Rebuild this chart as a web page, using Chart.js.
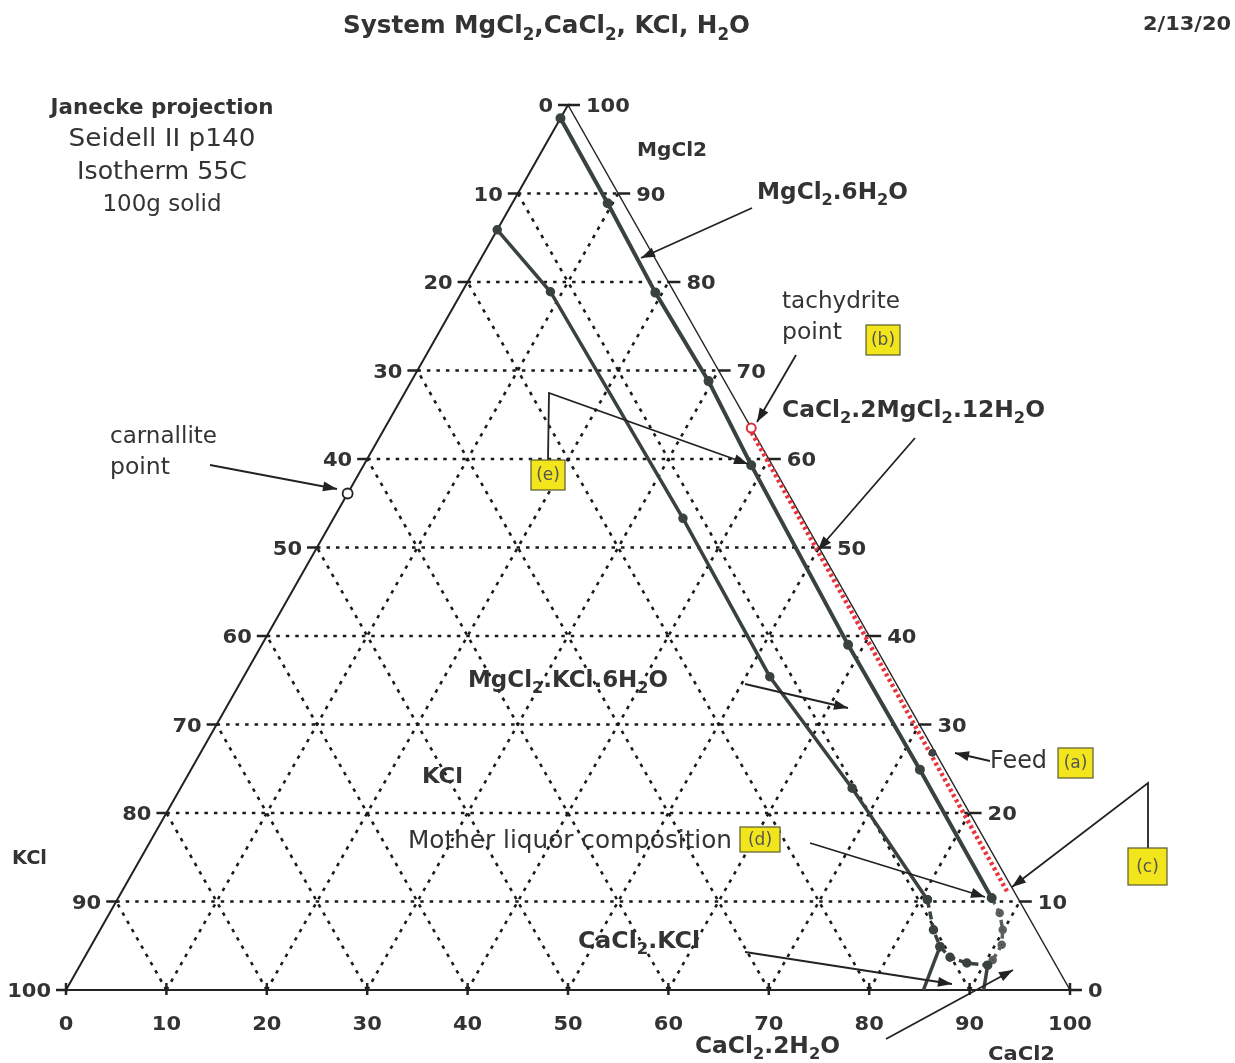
<!DOCTYPE html>
<html><head><meta charset="utf-8">
<script src="https://cdn.jsdelivr.net/npm/chart.js@4.4.1/dist/chart.umd.min.js"></script>
<style>html,body{margin:0;padding:0;background:#fff}canvas{display:block}</style>
</head><body>
<canvas id="c" width="1235" height="1063"></canvas>
<script>
// Ternary points are [CaCl2 %, MgCl2 %]; KCl = 100 - CaCl2 - MgCl2 (Janecke, 100 g solid)
const gridLevels = [10, 20, 30, 40, 50, 60, 70, 80, 90];
const tickLevels = [0, 10, 20, 30, 40, 50, 60, 70, 80, 90, 100];
const bottomTickLabels = ['0','10','20','30','40','50','60','70','80','90','100'];   // CaCl2
const rightTickLabels  = ['0','10','20','30','40','50','60','70','80','90','100'];   // MgCl2
const leftTickLabels   = ['100','90','80','70','60','50','40','30','20','10','0'];   // KCl

const mgcl2HexahydrateCurve = [[0,98.5],[9.5,88.9],[19.3,78.8],[29.6,68.8],[38.6,59.3],[58.4,39.0],[72.6,24.9],[87.0,10.4]];
const kclCarnalliteCurve    = [[0,85.9],[8.8,78.9],[34.8,53.3],[52.4,35.4],[66.9,22.8],[80.7,10.2]];
const kclCarnalliteLower    = [[80.7,10.2],[83.0,6.8],[84.6,4.9]];
const cacl2KclCurve         = [[84.6,4.9],[86.2,3.7],[88.2,3.05],[90.4,2.8]];
const motherLiquorLoop      = [[87.0,10.4],[88.65,8.7],[89.9,6.8],[90.65,5.1],[90.6,3.4],[90.4,2.8]];
const cacl2KclBoundary      = [[84.6,4.9],[85.4,0]];
const cacl2DihydrateBoundary= [[90.4,2.8],[91.4,0]];
const tachydriteLine        = [[36.8,63.0],[88.3,11.0]];
const tachydritePoint       = [[36.5,63.5]];
const feedPoint             = [[72.9,26.8]];
const carnallitePoint       = [[0,56.1]];
const triangleLeftBottom    = [[0,100],[0,0],[100,0]];
const triangleRight         = [[100,0],[0,100]];

const toXY = p => ({x: p[0] + p[1] / 2, y: p[1]});
const FAM = '"DejaVu Sans", Verdana, sans-serif';
const INK = '#3a4141';

const datasets = [];
function addLine(pts, o) {
  datasets.push(Object.assign({data: pts.map(toXY), showLine: true, pointRadius: 0, borderColor: INK,
    backgroundColor: INK, borderWidth: 3, clip: false, order: 1, tension: 0}, o));
}
gridLevels.forEach(g => {
  const st = {borderColor: '#1a1a1a', borderWidth: 2.6, borderDash: [3.5, 6], order: 10};
  addLine([[0, g], [100 - g, g]], st);
  addLine([[g, 0], [g, 100 - g]], st);
  addLine([[100 - g, 0], [0, 100 - g]], st);
});
addLine(triangleLeftBottom, {borderColor: '#222', borderWidth: 2, order: 5});
addLine(triangleRight, {borderColor: '#222', borderWidth: 1.5, order: 5});
addLine(tachydriteLine, {borderColor: '#e8343c', borderWidth: 4.5, borderDash: [3, 3], order: 3});
addLine(mgcl2HexahydrateCurve, {borderWidth: 4, pointRadius: 3});
addLine(kclCarnalliteCurve, {borderWidth: 3.5, pointRadius: 3});
addLine(kclCarnalliteLower, {borderWidth: 3.5, borderDash: [8, 4], pointRadius: 3});
addLine(cacl2KclCurve, {borderWidth: 3.5, borderDash: [8, 4], pointRadius: 3});
addLine(motherLiquorLoop, {borderWidth: 3.5, borderDash: [7, 5], pointRadius: 2.5, borderColor: '#5a6060'});
addLine(cacl2KclBoundary, {borderWidth: 3.5});
addLine(cacl2DihydrateBoundary, {borderWidth: 3.5});
datasets.push({data: tachydritePoint.map(toXY), pointRadius: 4.5, pointBorderColor: '#d9303a', pointBackgroundColor: '#fff', pointBorderWidth: 2, clip: false, order: 0});
datasets.push({data: feedPoint.map(toXY), pointRadius: 3.5, pointBorderColor: INK, pointBackgroundColor: INK, clip: false, order: 0});
datasets.push({data: carnallitePoint.map(toXY), pointRadius: 5, pointBorderColor: '#222', pointBackgroundColor: '#fff', pointBorderWidth: 1.8, clip: false, order: 0});

// draws text with "_x" subscripts; width = target width (horizontal fit) or a stretch factor if < 3
function rich(ctx, str, x, y, size, bold, align, width) {
  const w = bold ? 'bold ' : '';
  const big = w + size + 'px ' + FAM, small = w + Math.round(size * 0.68) + 'px ' + FAM;
  const toks = [];
  for (let i = 0; i < str.length; i++) {
    if (str[i] === '_') { toks.push({t: str[i + 1], s: true}); i++; }
    else if (toks.length && !toks[toks.length - 1].s) toks[toks.length - 1].t += str[i];
    else toks.push({t: str[i], s: false});
  }
  let total = 0;
  toks.forEach(tk => { ctx.font = tk.s ? small : big; tk.w = ctx.measureText(tk.t).width; total += tk.w; });
  let sx = 1;
  if (width) sx = width < 3 ? width : width / total;
  const tw = total * sx;
  const x0 = align === 'center' ? x - tw / 2 : align === 'right' ? x - tw : x;
  ctx.save(); ctx.translate(x0, y); ctx.scale(sx, 1);
  ctx.fillStyle = '#333'; ctx.textAlign = 'left'; ctx.textBaseline = 'alphabetic';
  let cx = 0;
  toks.forEach(tk => { ctx.font = tk.s ? small : big; ctx.fillText(tk.t, cx, tk.s ? size * 0.28 : 0); cx += tk.w; });
  ctx.restore();
}
function arrow(ctx, pts, head) {
  ctx.save(); ctx.strokeStyle = '#222'; ctx.fillStyle = '#222'; ctx.lineWidth = 1.8;
  ctx.beginPath(); ctx.moveTo(pts[0][0], pts[0][1]);
  for (let i = 1; i < pts.length; i++) ctx.lineTo(pts[i][0], pts[i][1]);
  ctx.stroke();
  if (head !== false) {
    const a = pts[pts.length - 1], b = pts[pts.length - 2];
    const ang = Math.atan2(a[1] - b[1], a[0] - b[0]);
    ctx.beginPath(); ctx.moveTo(a[0], a[1]);
    ctx.lineTo(a[0] - 14 * Math.cos(ang) + 5 * Math.sin(ang), a[1] - 14 * Math.sin(ang) - 5 * Math.cos(ang));
    ctx.lineTo(a[0] - 14 * Math.cos(ang) - 5 * Math.sin(ang), a[1] - 14 * Math.sin(ang) + 5 * Math.cos(ang));
    ctx.closePath(); ctx.fill();
  }
  ctx.restore();
}
function ybox(ctx, label, x, y, w, h) {
  ctx.save(); ctx.fillStyle = '#f2e51c'; ctx.strokeStyle = '#5a5a30'; ctx.lineWidth = 1.2;
  ctx.fillRect(x, y, w, h); ctx.strokeRect(x, y, w, h);
  ctx.fillStyle = '#555'; ctx.font = '17px ' + FAM; ctx.textAlign = 'center'; ctx.textBaseline = 'middle';
  ctx.fillText(label, x + w / 2, y + h / 2 + 1); ctx.restore();
}

const decor = {
  id: 'decor',
  beforeDraw(chart) { const c = chart.ctx; c.save(); c.fillStyle = '#fff'; c.fillRect(0, 0, chart.width, chart.height); c.restore(); },
  afterDraw(chart) {
    const ctx = chart.ctx, xs = chart.scales.x, ys = chart.scales.y;
    const P = (c, m) => [xs.getPixelForValue(c + m / 2), ys.getPixelForValue(m)];
    ctx.save();
    ctx.strokeStyle = '#222'; ctx.lineWidth = 2.5;
    tickLevels.forEach((v, i) => {
      const [lx, ly] = P(0, v);
      ctx.beginPath(); ctx.moveTo(lx - 10, ly); ctx.lineTo(lx + 2, ly); ctx.stroke();
      rich(ctx, leftTickLabels[i], lx - 15, ly + 7, 20, true, 'right', 1.05);
      const [rx, ry] = P(100 - v, v);
      ctx.beginPath(); ctx.moveTo(rx, ry); ctx.lineTo(rx + 12, ry); ctx.stroke();
      rich(ctx, rightTickLabels[i], rx + 18, ry + 7, 20, true, 'left', 1.05);
      const [bx, by] = P(v, 0);
      ctx.beginPath(); ctx.moveTo(bx, by - 7); ctx.lineTo(bx, by + 5); ctx.stroke();
      rich(ctx, bottomTickLabels[i], bx, by + 40, 20, true, 'center', 1.05);
    });
    ctx.restore();

    rich(ctx, 'System MgCl_2,CaCl_2, KCl, H_2O', 343, 33, 25, true, 'left', 407);
    rich(ctx, '2/13/20', 1143, 30, 19, true, 'left', 88);
    rich(ctx, 'Janecke projection', 162, 114, 22, true, 'center', 223);
    rich(ctx, 'Seidell II p140', 162, 146, 25, false, 'center', 187);
    rich(ctx, 'Isotherm 55C', 162, 179, 25, false, 'center', 170);
    rich(ctx, '100g solid', 162, 211, 23, false, 'center', 119);
    rich(ctx, 'MgCl2', 637, 156, 19, true, 'left', 70);
    rich(ctx, 'MgCl_2.6H_2O', 757, 199, 23, true, 'left', 151);
    rich(ctx, 'tachydrite', 782, 308, 23, false, 'left', 118);
    rich(ctx, 'point', 782, 339, 23, false, 'left', 60);
    rich(ctx, 'CaCl_2.2MgCl_2.12H_2O', 782, 417, 23, true, 'left', 263);
    rich(ctx, 'carnallite', 110, 443, 23, false, 'left', 107);
    rich(ctx, 'point', 110, 474, 23, false, 'left', 60);
    rich(ctx, 'MgCl_2.KCl.6H_2O', 468, 687, 23, true, 'left', 200);
    rich(ctx, 'KCl', 422, 783, 22, true, 'left', 41);
    rich(ctx, 'Mother liquor composition', 408, 848, 24, false, 'left', 324);
    rich(ctx, 'Feed', 990, 768, 24, false, 'left', 57);
    rich(ctx, 'CaCl_2.KCl', 578, 948, 23, true, 'left', 122);
    rich(ctx, 'CaCl_2.2H_2O', 695, 1053, 23, true, 'left', 145);
    rich(ctx, 'CaCl2', 988, 1060, 20, true, 'left', 67);
    rich(ctx, 'KCl', 12, 864, 19, true, 'left', 35);

    arrow(ctx, [[752, 208], [641, 258]]);
    arrow(ctx, [[796, 355], [757, 422]]);
    arrow(ctx, [[915, 438], [818, 550]]);
    arrow(ctx, [[548, 460], [549, 393], [748, 464]]);
    arrow(ctx, [[210, 465], [337, 489]]);
    arrow(ctx, [[745, 684], [848, 708]]);
    arrow(ctx, [[810, 843], [985, 897]]);
    arrow(ctx, [[990, 761], [955, 753]]);
    arrow(ctx, [[1148, 848], [1148, 783], [1012, 887]]);
    arrow(ctx, [[745, 952], [952, 984]]);
    arrow(ctx, [[886, 1039], [1013, 970]]);

    ybox(ctx, '(b)', 866, 325, 34, 30);
    ybox(ctx, '(e)', 531, 460, 34, 30);
    ybox(ctx, '(d)', 740, 827, 40, 25);
    ybox(ctx, '(a)', 1058, 748, 35, 30);
    ybox(ctx, '(c)', 1128, 848, 39, 37);
  }
};

new Chart(document.getElementById('c'), {
  type: 'scatter',
  data: {datasets},
  options: {
    responsive: false, animation: false, devicePixelRatio: 1,
    layout: {padding: {left: 66, right: 165, top: 105, bottom: 73}},
    scales: {x: {type: 'linear', min: 0, max: 100, display: false}, y: {type: 'linear', min: 0, max: 100, display: false}},
    plugins: {legend: {display: false}, tooltip: {enabled: false}}
  },
  plugins: [decor]
});
</script>
</body></html>
